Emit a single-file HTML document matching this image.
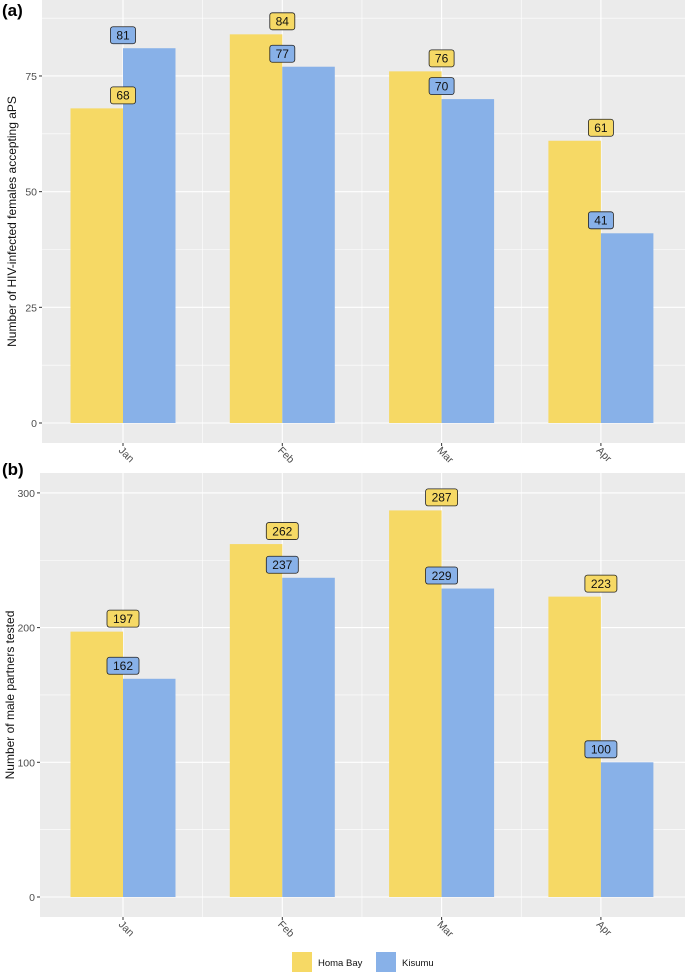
<!DOCTYPE html>
<html><head><meta charset="utf-8"><style>
body{margin:0;background:#fff;}
svg{display:block;font-family:"Liberation Sans",Arial,sans-serif;}
</style></head><body>
<svg id="c" width="685" height="973"></svg>
<script>
const months=["Jan","Feb","Mar","Apr"];
const homaA=[68,84,76,61];
const kisumuA=[81,77,70,41];
const ticksA=[0,25,50,75];
const homaB=[197,262,287,223];
const kisumuB=[162,237,229,100];
const ticksB=[0,100,200,300];
const NS="http://www.w3.org/2000/svg";
const svg=document.getElementById('c');
function mk(t,a,p){const e=document.createElementNS(NS,t);for(const k in a)e.setAttribute(k,a[k]);(p||svg).appendChild(e);return e;}
const YEL="#F6D965",BLU="#88B1E8";
function panel(cfg){
  const g=mk('g',{});
  
  
  const bg=mk('rect',{x:cfg.left,y:cfg.top,width:685-cfg.left,height:cfg.bottom-cfg.top,fill:"#EBEBEB"},g);
  
  
  const y=v=>cfg.y0-v*cfg.k;
  const xc=i=>123+i*159.3;
  for(let i=0;i<cfg.ticks.length-1;i++){
    const mv=(cfg.ticks[i]+cfg.ticks[i+1])/2;
    mk('line',{x1:cfg.left,x2:685,y1:y(mv),y2:y(mv),stroke:"#fff","stroke-width":0.6},g);
  }
  const lastMinor=cfg.ticks[cfg.ticks.length-1]+(cfg.ticks[1]-cfg.ticks[0])/2;
  if(y(lastMinor)>cfg.top) mk('line',{x1:cfg.left,x2:685,y1:y(lastMinor),y2:y(lastMinor),stroke:"#fff","stroke-width":0.6},g);
  for(let i=0;i<months.length-1;i++){const xm=(xc(i)+xc(i+1))/2;mk('line',{x1:xm,x2:xm,y1:cfg.top,y2:cfg.bottom,stroke:"#fff","stroke-width":0.6},g);}
  cfg.ticks.forEach(t=>{
    mk('line',{x1:cfg.left,x2:685,y1:y(t),y2:y(t),stroke:"#fff","stroke-width":1.1},g);
    mk('line',{x1:cfg.left-3,x2:cfg.left,y1:y(t),y2:y(t),stroke:"#333","stroke-width":1},g);
    const tl=mk('text',{x:cfg.left-5,y:y(t)+4,"text-anchor":"end","font-size":10.5,fill:"#4d4d4d"},g);tl.textContent=t;
    
    
  });
  months.forEach((m,i)=>{
    mk('line',{x1:xc(i),x2:xc(i),y1:cfg.top,y2:cfg.bottom,stroke:"#fff","stroke-width":1.1},g);
    mk('line',{x1:xc(i),x2:xc(i),y1:cfg.bottom,y2:cfg.bottom+3,stroke:"#333","stroke-width":1},g);
    const tx=mk('text',{x:0,y:0,"font-size":10.5,fill:"#4d4d4d",transform:`translate(${xc(i)-5},${cfg.bottom+8}) rotate(45)`},g);tx.textContent=m;
    
    
  });
  const bw=52.5;
  [[cfg.h,YEL,-1,'homa-bay-bar'],[cfg.ks,BLU,0,'kisumu-bar']].forEach(([arr,col,off,nm])=>{
    arr.forEach((v,i)=>{
      const bx=xc(i)+off*bw;
      const r=mk('rect',{x:bx,y:y(v),width:bw,height:cfg.y0-y(v),fill:col},g);
      
      
    });
  });
  [[cfg.h,YEL,'homa-bay-label'],[cfg.ks,BLU,'kisumu-label']].forEach(([arr,col,nm])=>{
    arr.forEach((v,i)=>{
      const w=String(v).length>2?32:25;
      const cy=y(v)-13;
      const lg=mk('g',{},g);
      
      
      mk('rect',{x:xc(i)-w/2,y:cy-8.5,width:w,height:17,rx:2.5,fill:col,stroke:"#222","stroke-width":0.8},lg);
      const t=mk('text',{x:xc(i),y:cy+4.3,"text-anchor":"middle","font-size":12,fill:"#111"},lg);t.textContent=v;
    });
  });
  const at=mk('text',{x:0,y:0,"text-anchor":"middle","font-size":12,fill:"#111",transform:`translate(${cfg.titleX},${(cfg.top+cfg.bottom)/2}) rotate(-90)`},g);
  at.textContent=cfg.title;
  
  
  const pl=mk('text',{x:2,y:cfg.tagY,"font-size":17,"font-weight":"bold",fill:"#000"},g);pl.textContent=cfg.tag;
  
  
}
panel({name:'panel-a',left:42,top:0,bottom:443,y0:423,k:4.627,ticks:ticksA,h:homaA,ks:kisumuA,title:"Number of HIV-infected females accepting aPS",titleX:16,tag:"(a)",tagY:16});
panel({name:'panel-b',left:40,top:473,bottom:917,y0:897,k:1.347,ticks:ticksB,h:homaB,ks:kisumuB,title:"Number of male partners tested",titleX:14,tag:"(b)",tagY:475});
const lg=mk('g',{});


[[YEL,"Homa Bay",292],[BLU,"Kisumu",376]].forEach(([c,l,x])=>{
  const e=mk('g',{},lg);
  
  
  mk('rect',{x:x,y:952,width:20,height:20,fill:c},e);
  const t=mk('text',{x:x+26,y:966,"font-size":9.5,fill:"#111"},e);t.textContent=l;
});
</script>
</body></html>
